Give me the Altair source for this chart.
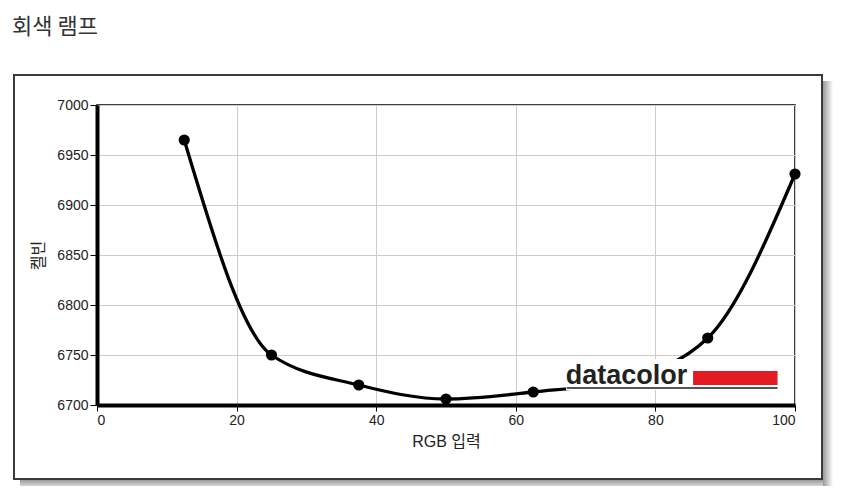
import altair as alt
import pandas as pd

# data
rgb_input = [12.5, 25, 37.5, 50, 62.5, 75, 87.5, 100]
kelvin = [6965, 6750, 6720, 6706, 6713, 6725, 6767, 6931]

df = pd.DataFrame({"rgb": rgb_input, "kelvin": kelvin})
one = pd.DataFrame({"a": [0]})

W, H = 698, 300
FONT = "Liberation Sans, Arial, Noto Sans CJK KR"

xscale = alt.Scale(domain=[0, 100], nice=False, zero=False)
yscale = alt.Scale(domain=[6700, 7000], nice=False, zero=False)

xaxis = alt.Axis(values=[0, 20, 40, 60, 80, 100], title="RGB 입력", grid=True, format="d",
                 gridColor="#cccccc", gridWidth=1, domainColor="black", domainWidth=4,
                 tickColor="black", tickSize=6, tickWidth=1, labelFont=FONT, labelFontSize=14,
                 labelColor="#222222", labelPadding=2, titleFont=FONT, titleFontSize=16,
                 titleFontWeight="normal", titleColor="#222222", titlePadding=6)
yaxis = alt.Axis(values=[6700, 6750, 6800, 6850, 6900, 6950, 7000], title="켈빈", grid=True,
                 format="d",
                 gridColor="#cccccc", gridWidth=1, domainColor="black", domainWidth=4,
                 tickColor="black", tickSize=7, tickWidth=1, labelFont=FONT, labelFontSize=14,
                 labelColor="#222222", labelPadding=2, titleFont=FONT, titleFontSize=16,
                 titleFontWeight="normal", titleColor="#222222", titlePadding=10)

base = alt.Chart(df)

line = base.mark_line(color="black", strokeWidth=3.3, interpolate="monotone").encode(
    x=alt.X("rgb:Q", scale=xscale, axis=xaxis),
    y=alt.Y("kelvin:Q", scale=yscale, axis=yaxis),
)
points = base.mark_circle(color="black", size=125, opacity=1).encode(
    x=alt.X("rgb:Q", scale=xscale),
    y=alt.Y("kelvin:Q", scale=yscale),
)

# frame and shadow (decoration, pixel positions relative to plot area)
shadow_right = alt.Chart(one).mark_rect(
    color=alt.LinearGradient(gradient="linear", x1=0, x2=1, y1=0, y2=0,
                             stops=[alt.GradientStop(offset=0, color="#9a9a9a"),
                                    alt.GradientStop(offset=1, color="#ffffff")])
).encode(x=alt.value(726), x2=alt.value(736), y=alt.value(-24), y2=alt.value(384))
shadow_bottom = alt.Chart(one).mark_rect(
    color=alt.LinearGradient(gradient="linear", x1=0, x2=0, y1=0, y2=1,
                             stops=[alt.GradientStop(offset=0, color="#9a9a9a"),
                                    alt.GradientStop(offset=1, color="#ffffff")])
).encode(x=alt.value(-77), x2=alt.value(726), y=alt.value(375), y2=alt.value(385))
frame = alt.Chart(one).mark_rect(fillOpacity=0, stroke="#3a3a3a", strokeWidth=2).encode(
    x=alt.value(-83), x2=alt.value(725), y=alt.value(-30), y2=alt.value(374)
)

# datacolor logo
logo_bg = alt.Chart(one).mark_rect(color="white").encode(
    x=alt.datum(67.2, scale=xscale), x2=alt.datum(97.6),
    y=alt.datum(6715, scale=yscale), y2=alt.datum(6746),
)
logo_red = alt.Chart(one).mark_rect(color="#e31b23").encode(
    x=alt.datum(85.4), x2=alt.datum(97.5), y=alt.datum(6720), y2=alt.datum(6734)
)
logo_line = alt.Chart(one).mark_rule(color="#555555", strokeWidth=2).encode(
    x=alt.datum(67.3), x2=alt.datum(97.5), y=alt.datum(6717)
)
logo_text = alt.Chart(one).mark_text(
    text="datacolor", font="Liberation Sans", fontSize=27, fontWeight="bold",
    color="#222222", align="left", baseline="alphabetic", dx=-1
).encode(x=alt.datum(67.3), y=alt.datum(6721))

chart = alt.layer(
    shadow_right, shadow_bottom, frame, line, points, logo_bg, logo_red, logo_line, logo_text
).properties(
    width=W, height=H,
    title=alt.TitleParams(text="회색 램프", anchor="start", frame="group", dx=-85,
                          offset=35, font="Noto Sans CJK KR", fontSize=22,
                          fontWeight="normal", color="#333333"),
    autosize=alt.AutoSizeParams(type="none"),
    padding={"left": 89, "top": 97, "right": 39, "bottom": 81},
).configure_view(stroke="black", strokeWidth=1.5)

chart.save("out.html", embed_options={"renderer": "svg", "actions": False})
